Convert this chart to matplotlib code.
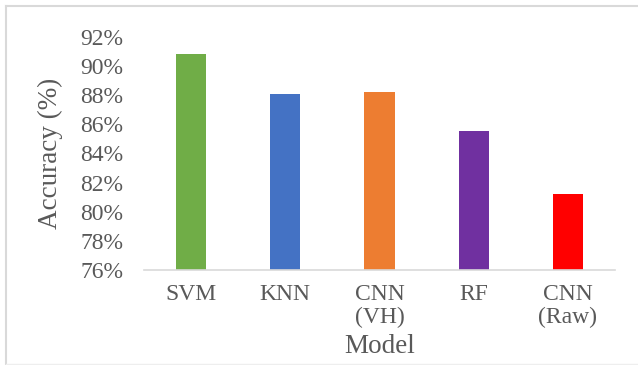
import matplotlib
matplotlib.use("Agg")
import matplotlib.pyplot as plt
from matplotlib.lines import Line2D
from matplotlib.ticker import FuncFormatter

models = ["SVM", "KNN", "CNN\n(VH)", "RF", "CNN\n(Raw)"]
accuracy = [90.8, 88.1, 88.2, 85.5, 81.2]
bar_colors = ["#70AD47", "#4472C4", "#ED7D31", "#7030A0", "#FF0000"]
y_ticks = [76, 78, 80, 82, 84, 86, 88, 90, 92]

plt.rcParams["font.family"] = ["Liberation Serif", "DejaVu Serif"]
text_color = "#595959"

W, H = 638, 365
fig = plt.figure(figsize=(W / 100, H / 100), dpi=100)
ax = fig.add_axes([144 / W, 1 - 270 / H, 471 / W, 233.3 / H])

x = range(len(models))
ax.bar(x, accuracy, width=0.32, color=bar_colors, zorder=2)

ax.set_xlim(-0.5, len(models) - 0.5)
ax.set_ylim(y_ticks[0], y_ticks[-1])
ax.set_yticks(y_ticks)
ax.yaxis.set_major_formatter(FuncFormatter(lambda v, _: f"{v:.0f}%"))
ax.set_xticks(list(x))
ax.set_xticklabels(models, linespacing=1.12)

ax.tick_params(axis="both", length=0, colors=text_color, labelsize=17)
ax.tick_params(axis="x", pad=10)
ax.tick_params(axis="y", pad=15)

for side in ("top", "right", "left"):
    ax.spines[side].set_visible(False)
ax.spines["bottom"].set_color("#D9D9D9")
ax.spines["bottom"].set_linewidth(1.2)

ax.set_xlabel("Model", fontsize=19.5, color=text_color, labelpad=4)
ax.set_ylabel("Accuracy (%)", fontsize=19.5, color=text_color, labelpad=12)

# light frame (top and left edges, faint bottom)
frame = "#D9D9D9"
fig.add_artist(Line2D([6 / W, 1], [1 - 6 / H, 1 - 6 / H], color=frame, lw=1.5))
fig.add_artist(Line2D([6 / W, 6 / W], [0, 1 - 6 / H], color=frame, lw=1.5))
fig.add_artist(Line2D([6 / W, 1], [1.5 / H, 1.5 / H], color="#EEEEEE", lw=1))

fig.savefig("out.png", dpi=100)
